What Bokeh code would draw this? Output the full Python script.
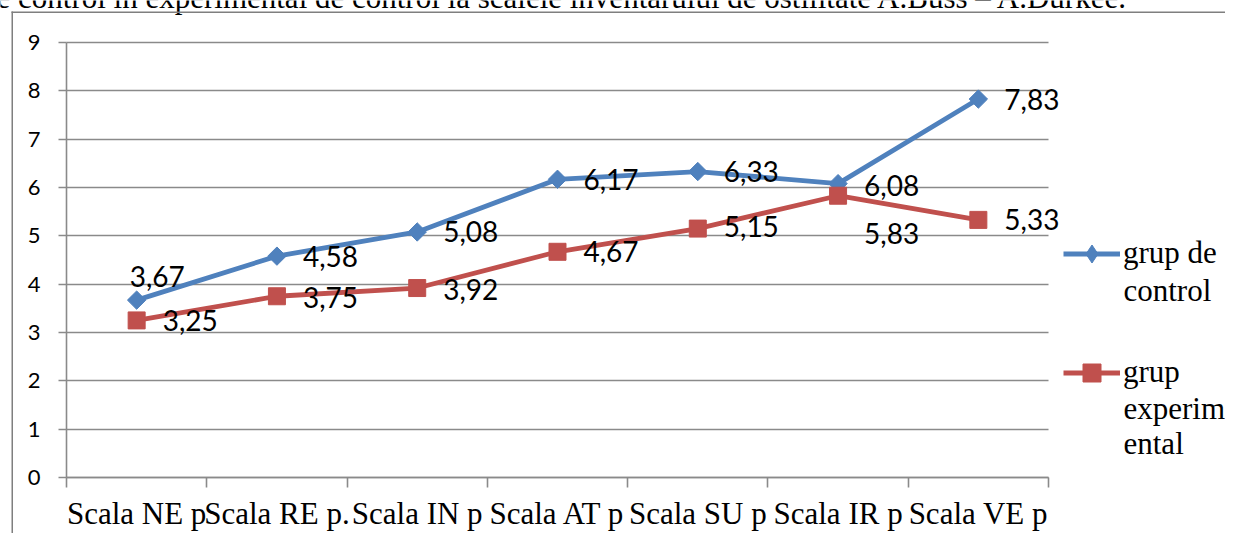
from bokeh.plotting import figure
from bokeh.models import (Range1d, FixedTicker, Label, Legend, LegendItem,
                          BoxAnnotation, ColumnDataSource, Grid)
from bokeh.core.properties import value
from bokeh.embed import file_html
from bokeh.resources import INLINE

# ---- data ----
categories = ["Scala NE p", "Scala RE p.", "Scala IN p", "Scala AT p",
              "Scala SU p", "Scala IR p", "Scala VE p"]
control = [3.67, 4.58, 5.08, 6.17, 6.33, 6.08, 7.83]
experimental = [3.25, 3.75, 3.92, 4.67, 5.15, 5.83, 5.33]
control_labels = ["3,67", "4,58", "5,08", "6,17", "6,33", "6,08", "7,83"]
experimental_labels = ["3,25", "3,75", "3,92", "4,67", "5,15", "5,83", "5,33"]
y_ticks = [0, 1, 2, 3, 4, 5, 6, 7, 8, 9]
title_text = "e control în experimental de control la scalele inventarului de ostilitate A.Buss – A.Durkee."

# ---- styles / layout (pixels) ----
ctrl_dx = [-7, 26, 26, 26, 26, 26, 26]
ctrl_dy = [-24, 0, 0, 0, 0, 2, 0]
exp_dx = [26, 26, 26, 26, 26, 26, 26]
exp_dy = [0, 1, 1, 0, -2, 38, 0]

BLUE = "#4F81BD"
RED = "#C0504D"
GRID = "#8A8A8A"
W, H = 1225, 533
PL, PR, PT, PB = 66, 1048, 42, 477      # plot area in pixels
ncat = len(categories)
ymax = y_ticks[-1]
xs_per_px = ncat / (PR - PL)
ys_per_px = ymax / (PB - PT)

p = figure(width=W, height=H, output_backend="svg", toolbar_location=None,
           x_range=Range1d(-PL * xs_per_px, ncat + (W - PR) * xs_per_px),
           y_range=Range1d(-(H - PB) * ys_per_px, ymax + PT * ys_per_px),
           min_border=0, min_border_left=0, min_border_right=0,
           min_border_top=0, min_border_bottom=0)
p.outline_line_color = None
p.background_fill_color = "white"
p.border_fill_color = "white"

xs = [i + 0.5 for i in range(ncat)]
src_c = ColumnDataSource(dict(x=xs, y=control, t=control_labels, dx=ctrl_dx, dy=ctrl_dy))
src_e = ColumnDataSource(dict(x=xs, y=experimental, t=experimental_labels, dx=exp_dx, dy=exp_dy))

# grid
p.xgrid.grid_line_color = None
yg = p.ygrid[0]
yg.ticker = FixedTicker(ticks=y_ticks)
if "cross_bounds" in Grid.properties():
    yg.grid_line_color = GRID
    yg.grid_line_width = 1.6
    yg.cross_bounds = (0, ncat)
else:
    yg.grid_line_color = None
    p.segment(x0=[0] * len(y_ticks), x1=[ncat] * len(y_ticks), y0=y_ticks, y1=y_ticks,
              line_color=GRID, line_width=1.6)

# y axis
ya = p.yaxis[0]
ya.fixed_location = 0
ya.bounds = (0, ymax)
ya.ticker = FixedTicker(ticks=y_ticks)
ya.axis_line_color = GRID
ya.axis_line_width = 1.6
ya.major_tick_line_color = GRID
ya.major_tick_line_width = 1.6
ya.major_tick_out = 8
ya.major_tick_in = 0
ya.minor_tick_line_color = None
ya.major_label_text_font = "Lato"
ya.major_label_text_font_size = "22px"
ya.major_label_text_color = "black"
ya.major_label_standoff = 18

# x axis: labels centered in categories, ticks at boundaries
xa = p.xaxis[0]
xa.fixed_location = 0
xa.bounds = (0, ncat)
xa.ticker = FixedTicker(ticks=xs, minor_ticks=list(range(ncat + 1)))
xa.major_label_overrides = {x: c for x, c in zip(xs, categories)}
xa.axis_line_color = GRID
xa.axis_line_width = 1.6
xa.major_tick_line_color = None
xa.major_tick_out = 10
xa.major_tick_in = 0
xa.minor_tick_line_color = GRID
xa.minor_tick_line_width = 1.6
xa.minor_tick_out = 10
xa.minor_tick_in = 0
xa.major_label_text_font = "Liberation Serif"
xa.major_label_text_font_size = "31px"
xa.major_label_text_color = "black"
xa.major_label_standoff = 8

# series
lc = p.line("x", "y", source=src_c, line_color=BLUE, line_width=4.8)
# diamond (used for the legend glyph), covered by the rotated square below
md = p.scatter("x", "y", source=src_c, marker="diamond", size=16,
               fill_color=BLUE, line_color=BLUE)
p.scatter("x", "y", source=src_c, marker="square", angle=0.785398, size=13,
          fill_color=BLUE, line_color=BLUE)
le = p.line("x", "y", source=src_e, line_color=RED, line_width=4.8)
me = p.scatter("x", "y", source=src_e, marker="square", size=17,
               fill_color=RED, line_color=RED)

for src in (src_c, src_e):
    p.text("x", "y", text="t", source=src, x_offset="dx", y_offset="dy",
           text_font=value("Lato"), text_font_size="28px", text_color="black",
           text_baseline="middle", text_align="left")

# legend
LEG_GLYPH_H = 45
LEG_SPACING = 74
leg_h = 2 * LEG_GLYPH_H + LEG_SPACING
legend = Legend(items=[LegendItem(label="grup de", renderers=[lc, md]),
                       LegendItem(label="grup", renderers=[le, me])],
                location=(1063, H - (253 - LEG_GLYPH_H / 2) - leg_h),
                orientation="vertical")
legend.label_text_font = "Liberation Serif"
legend.label_text_font_size = "31px"
legend.label_text_color = "black"
legend.glyph_width = 57
legend.glyph_height = LEG_GLYPH_H
legend.label_height = LEG_GLYPH_H
legend.label_standoff = 3
legend.spacing = LEG_SPACING
legend.padding = 0
legend.margin = 0
legend.border_line_color = None
legend.background_fill_alpha = 0
p.add_layout(legend)

for txt, cx, cy in [("control", 1123, 290), ("experim", 1123, 408), ("ental", 1123, 443)]:
    p.add_layout(Label(x=cx, y=cy, x_units="canvas", y_units="canvas", text=txt,
                       text_font="Liberation Serif", text_font_size="31px",
                       text_color="black", text_baseline="middle"))

# caption above the chart, cut off by the top edge as in the source
p.add_layout(Label(x=-4, y=-3, x_units="canvas", y_units="canvas", text=title_text,
                   text_font="Liberation Serif", text_font_size="31px",
                   text_color="black", text_baseline="middle"))

# outer frame lines (left & top)
p.add_layout(BoxAnnotation(left=11, right=12.5, top=11, bottom=H, left_units="canvas",
                           right_units="canvas", top_units="canvas", bottom_units="canvas",
                           fill_color="#7F7F7F", fill_alpha=1, line_color=None))
p.add_layout(BoxAnnotation(left=11, right=W, top=11, bottom=12.5, left_units="canvas",
                           right_units="canvas", top_units="canvas", bottom_units="canvas",
                           fill_color="#7F7F7F", fill_alpha=1, line_color=None))

open("out.html", "w").write(file_html(p, INLINE))
